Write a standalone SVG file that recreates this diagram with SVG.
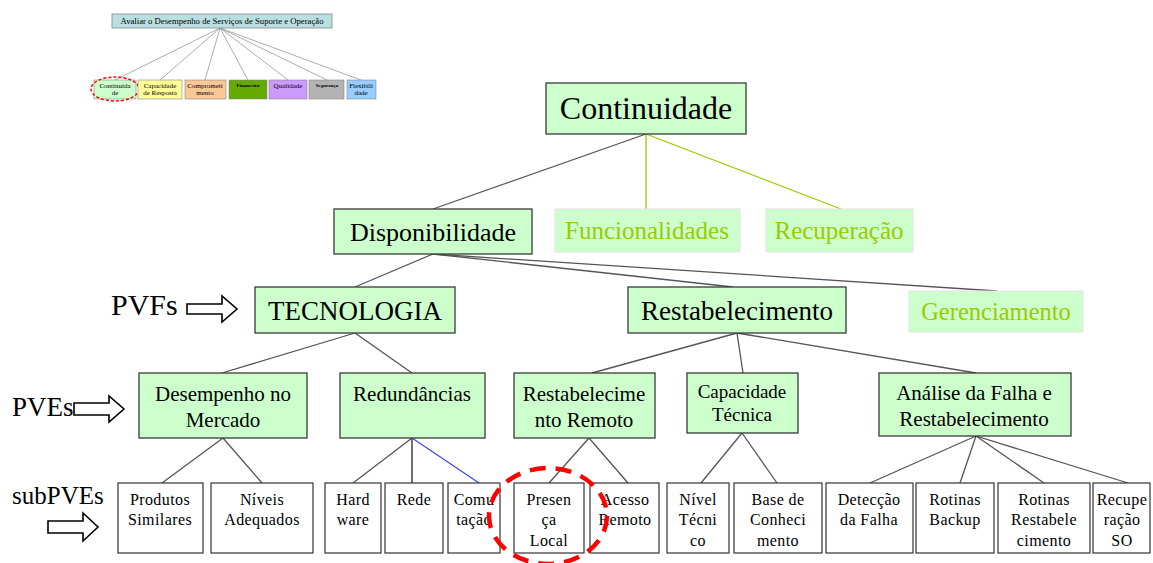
<svg xmlns="http://www.w3.org/2000/svg" width="1153" height="563" viewBox="0 0 1153 563" font-family="'Liberation Serif', 'Times New Roman', serif">
<style>
text{font-family:"Liberation Serif","Times New Roman",serif;fill:#000;text-anchor:middle}
.g{fill:#ccffcc;stroke:#3a3a3a;stroke-width:1.3}
.gl{fill:#ccffcc;stroke:#e2e2e2;stroke-width:1}
.w{fill:#fff;stroke:#333;stroke-width:1.2}
.lt{fill:#99cc00}
.c{stroke:#555;stroke-width:1.3;fill:none}
.cg{stroke:#99cc00;stroke-width:1.3;fill:none}
.cb{stroke:#3344ff;stroke-width:1.1;fill:none}
.tc{stroke:#999;stroke-width:0.8;fill:none}
.arr{fill:#fff;stroke:#000;stroke-width:1.6}
.s{font-size:16px;letter-spacing:0.4px}
.m{font-size:21px}
.tt{font-size:7px}
.lbl{text-anchor:start}
</style>

<!-- thumbnail -->
<g id="thumb">
  <g id="thumb-connectors">
    <line class="tc" x1="220" y1="28" x2="115" y2="80"/>
    <line class="tc" x1="220" y1="28" x2="160" y2="80"/>
    <line class="tc" x1="220" y1="28" x2="205" y2="80"/>
    <line class="tc" x1="220" y1="28" x2="248" y2="80"/>
    <line class="tc" x1="220" y1="28" x2="288" y2="80"/>
    <line class="tc" x1="220" y1="28" x2="327" y2="80"/>
    <line class="tc" x1="220" y1="28" x2="361" y2="80"/>
  </g>
  <g id="thumb-root">
    <rect x="112" y="14" width="220" height="14" fill="#b9dfe0" stroke="#888" stroke-width="0.8"/>
    <text x="222" y="24" font-size="8.3" textLength="203" lengthAdjust="spacingAndGlyphs">Avaliar o Desempenho de Serviços de Suporte e Operação</text>
  </g>
  <g id="thumb-continuidade">
    <rect x="94" y="80" width="42" height="19" fill="#ccffcc" stroke="#888" stroke-width="0.6"/>
    <text class="tt" x="115" y="88">Continuida</text>
    <text class="tt" x="115" y="95">de</text>
    <ellipse cx="115" cy="89" rx="24" ry="12" fill="none" stroke="#ff0000" stroke-width="1.5" stroke-dasharray="3 2"/>
  </g>
  <g id="thumb-capacidade">
    <rect x="138" y="80" width="44" height="19" fill="#ffff99" stroke="#888" stroke-width="0.6"/>
    <text class="tt" x="160" y="88">Capacidade</text>
    <text class="tt" x="160" y="95">de Resposta</text>
  </g>
  <g id="thumb-comprometimento">
    <rect x="185" y="80" width="41" height="19" fill="#fbc797" stroke="#888" stroke-width="0.6"/>
    <text class="tt" x="205" y="88">Comprometi</text>
    <text class="tt" x="205" y="95">mento</text>
  </g>
  <g id="thumb-financeiro">
    <rect x="229" y="80" width="38" height="19" fill="#66aa00" stroke="#888" stroke-width="0.6"/>
    <text x="248" y="87" font-size="5" font-weight="bold">Financeiro</text>
  </g>
  <g id="thumb-qualidade">
    <rect x="269" y="80" width="38" height="19" fill="#cc99ff" stroke="#888" stroke-width="0.6"/>
    <text class="tt" x="288" y="88">Qualidade</text>
  </g>
  <g id="thumb-seguranca">
    <rect x="309" y="80" width="35" height="19" fill="#b3b3b3" stroke="#888" stroke-width="0.6"/>
    <text x="327" y="87" font-size="5" font-weight="bold">Segurança</text>
  </g>
  <g id="thumb-flexibilidade">
    <rect x="347" y="80" width="29" height="19" fill="#99ccff" stroke="#888" stroke-width="0.6"/>
    <text class="tt" x="361" y="88">Flexibili</text>
    <text class="tt" x="361" y="95">dade</text>
  </g>
</g>

<!-- connectors -->
<g id="connectors">
  <line class="c" x1="646" y1="134" x2="433" y2="209"/>
  <line class="cg" x1="646" y1="134" x2="646" y2="209"/>
  <line class="cg" x1="646" y1="134" x2="841" y2="209"/>

  <line class="c" x1="433" y1="254" x2="355" y2="287"/>
  <line class="c" x1="433" y1="254" x2="733" y2="287"/>
  <line class="c" x1="433" y1="254" x2="997" y2="291"/>

  <line class="c" x1="355" y1="333" x2="222" y2="373"/>
  <line class="c" x1="355" y1="333" x2="412" y2="373"/>

  <line class="c" x1="737" y1="333" x2="592" y2="373"/>
  <line class="c" x1="737" y1="333" x2="743" y2="373"/>
  <line class="c" x1="737" y1="333" x2="976" y2="373"/>

  <line class="c" x1="223" y1="438" x2="162" y2="483"/>
  <line class="c" x1="223" y1="438" x2="262" y2="483"/>

  <line class="c" x1="412" y1="438" x2="353" y2="483"/>
  <line class="c" x1="412" y1="438" x2="412" y2="483" style="stroke:#222"/>
  <line class="cb" x1="412" y1="438" x2="479" y2="483"/>

  <line class="c" x1="589" y1="438" x2="549" y2="483"/>
  <line class="c" x1="589" y1="438" x2="628" y2="483"/>

  <line class="c" x1="742" y1="433" x2="701" y2="483"/>
  <line class="c" x1="742" y1="433" x2="777" y2="483"/>

  <line class="c" x1="976" y1="436" x2="870" y2="483"/>
  <line class="c" x1="976" y1="436" x2="960" y2="483"/>
  <line class="c" x1="976" y1="436" x2="1044" y2="483"/>
  <line class="c" x1="976" y1="436" x2="1128" y2="483"/>
</g>

<!-- level 1 -->
<g id="n-continuidade">
  <rect class="g" x="546" y="83" width="200" height="51"/>
  <text x="646" y="119" font-size="32">Continuidade</text>
</g>

<!-- level 2 -->
<g id="n-disponibilidade">
  <rect class="g" x="334" y="209" width="198" height="45"/>
  <text x="433" y="241" font-size="26">Disponibilidade</text>
</g>
<g id="n-funcionalidades">
  <rect class="gl" x="555" y="209" width="185" height="43"/>
  <text class="lt" x="647" y="239" font-size="25">Funcionalidades</text>
</g>
<g id="n-recuperacao">
  <rect class="gl" x="766" y="209" width="147" height="43"/>
  <text class="lt" x="839" y="239" font-size="25">Recuperação</text>
</g>

<!-- PVFs -->
<g id="lbl-pvfs">
  <text class="lbl" x="111" y="315" font-size="30">PVFs</text>
  <polygon class="arr" points="187,304 222,304 222,296 237,309 222,322 222,314 187,314"/>
</g>
<g id="n-tecnologia">
  <rect class="g" x="255" y="287" width="200" height="46"/>
  <text x="355" y="320" font-size="27">TECNOLOGIA</text>
</g>
<g id="n-restabelecimento">
  <rect class="g" x="628" y="287" width="218" height="46"/>
  <text x="737" y="320" font-size="27">Restabelecimento</text>
</g>
<g id="n-gerenciamento">
  <rect class="gl" x="909" y="291" width="174" height="41"/>
  <text class="lt" x="996" y="320" font-size="24.5">Gerenciamento</text>
</g>

<!-- PVEs -->
<g id="lbl-pves">
  <text class="lbl" x="12" y="416" font-size="27">PVEs</text>
  <polygon class="arr" points="74,403 109,403 109,396 124,409 109,422 109,415 74,415"/>
</g>
<g id="n-desempenho">
  <rect class="g" x="139" y="373" width="168" height="65"/>
  <text class="m" x="223" y="401">Desempenho no</text>
  <text class="m" x="223" y="427">Mercado</text>
</g>
<g id="n-redundancias">
  <rect class="g" x="340" y="373" width="145" height="65"/>
  <text class="m" x="412" y="401">Redundâncias</text>
</g>
<g id="n-restab-remoto">
  <rect class="g" x="514" y="373" width="141" height="65"/>
  <text class="m" x="584" y="401">Restabelecime</text>
  <text class="m" x="584" y="427">nto Remoto</text>
</g>
<g id="n-capacidade">
  <rect class="g" x="687" y="373" width="111" height="60"/>
  <text x="742" y="398" font-size="19">Capacidade</text>
  <text x="742" y="421" font-size="19">Técnica</text>
</g>
<g id="n-analise">
  <rect class="g" x="879" y="373" width="192" height="63"/>
  <text class="m" x="974" y="400">Análise da Falha e</text>
  <text class="m" x="974" y="426">Restabelecimento</text>
</g>

<!-- subPVEs -->
<g id="lbl-subpves">
  <text class="lbl" x="12" y="504" font-size="25">subPVEs</text>
  <polygon class="arr" points="48,521 83,521 83,513 98,527 83,541 83,533 48,533"/>
</g>
<g id="s-produtos">
  <rect class="w" x="118" y="483" width="85" height="70"/>
  <text class="s" x="160" y="505">Produtos</text>
  <text class="s" x="160" y="525">Similares</text>
</g>
<g id="s-niveis">
  <rect class="w" x="211" y="483" width="102" height="70"/>
  <text class="s" x="262" y="505">Níveis</text>
  <text class="s" x="262" y="525">Adequados</text>
</g>
<g id="s-hardware">
  <rect class="w" x="325" y="483" width="56" height="70"/>
  <text class="s" x="353" y="505">Hard</text>
  <text class="s" x="353" y="525">ware</text>
</g>
<g id="s-rede">
  <rect class="w" x="385" y="483" width="58" height="70"/>
  <text class="s" x="414" y="505">Rede</text>
</g>
<g id="s-comutacao">
  <rect class="w" x="448" y="483" width="52" height="70"/>
  <text class="s" x="474" y="505">Comu</text>
  <text class="s" x="474" y="525">tação</text>
</g>
<g id="s-presenca">
  <rect class="w" x="514" y="483" width="70" height="70"/>
  <text class="s" x="549" y="505">Presen</text>
  <text class="s" x="549" y="525">ça</text>
  <text class="s" x="549" y="546">Local</text>
</g>
<g id="s-acesso">
  <rect class="w" x="590" y="483" width="69" height="70"/>
  <text class="s" x="625" y="505">Acesso</text>
  <text class="s" x="625" y="525">Remoto</text>
</g>
<g id="s-nivel-tecnico">
  <rect class="w" x="667" y="483" width="62" height="70"/>
  <text class="s" x="698" y="505">Nível</text>
  <text class="s" x="698" y="525">Técni</text>
  <text class="s" x="698" y="546">co</text>
</g>
<g id="s-base">
  <rect class="w" x="734" y="483" width="88" height="70"/>
  <text class="s" x="778" y="505">Base de</text>
  <text class="s" x="778" y="525">Conheci</text>
  <text class="s" x="778" y="546">mento</text>
</g>
<g id="s-deteccao">
  <rect class="w" x="826" y="483" width="87" height="70"/>
  <text class="s" x="869" y="505">Detecção</text>
  <text class="s" x="869" y="525">da Falha</text>
</g>
<g id="s-backup">
  <rect class="w" x="916" y="483" width="78" height="70"/>
  <text class="s" x="955" y="505">Rotinas</text>
  <text class="s" x="955" y="525">Backup</text>
</g>
<g id="s-rotinas-restab">
  <rect class="w" x="998" y="483" width="92" height="70"/>
  <text class="s" x="1044" y="505">Rotinas</text>
  <text class="s" x="1044" y="525">Restabele</text>
  <text class="s" x="1044" y="546">cimento</text>
</g>
<g id="s-recuperacao-so">
  <rect class="w" x="1093" y="483" width="57" height="70"/>
  <text class="s" x="1122" y="505">Recupe</text>
  <text class="s" x="1122" y="525">ração</text>
  <text class="s" x="1122" y="546">SO</text>
</g>

<!-- highlight -->
<ellipse id="highlight" cx="548" cy="516" rx="59" ry="48" fill="none" stroke="#ff0000" stroke-width="4.5" stroke-dasharray="16 10"/>
</svg>
